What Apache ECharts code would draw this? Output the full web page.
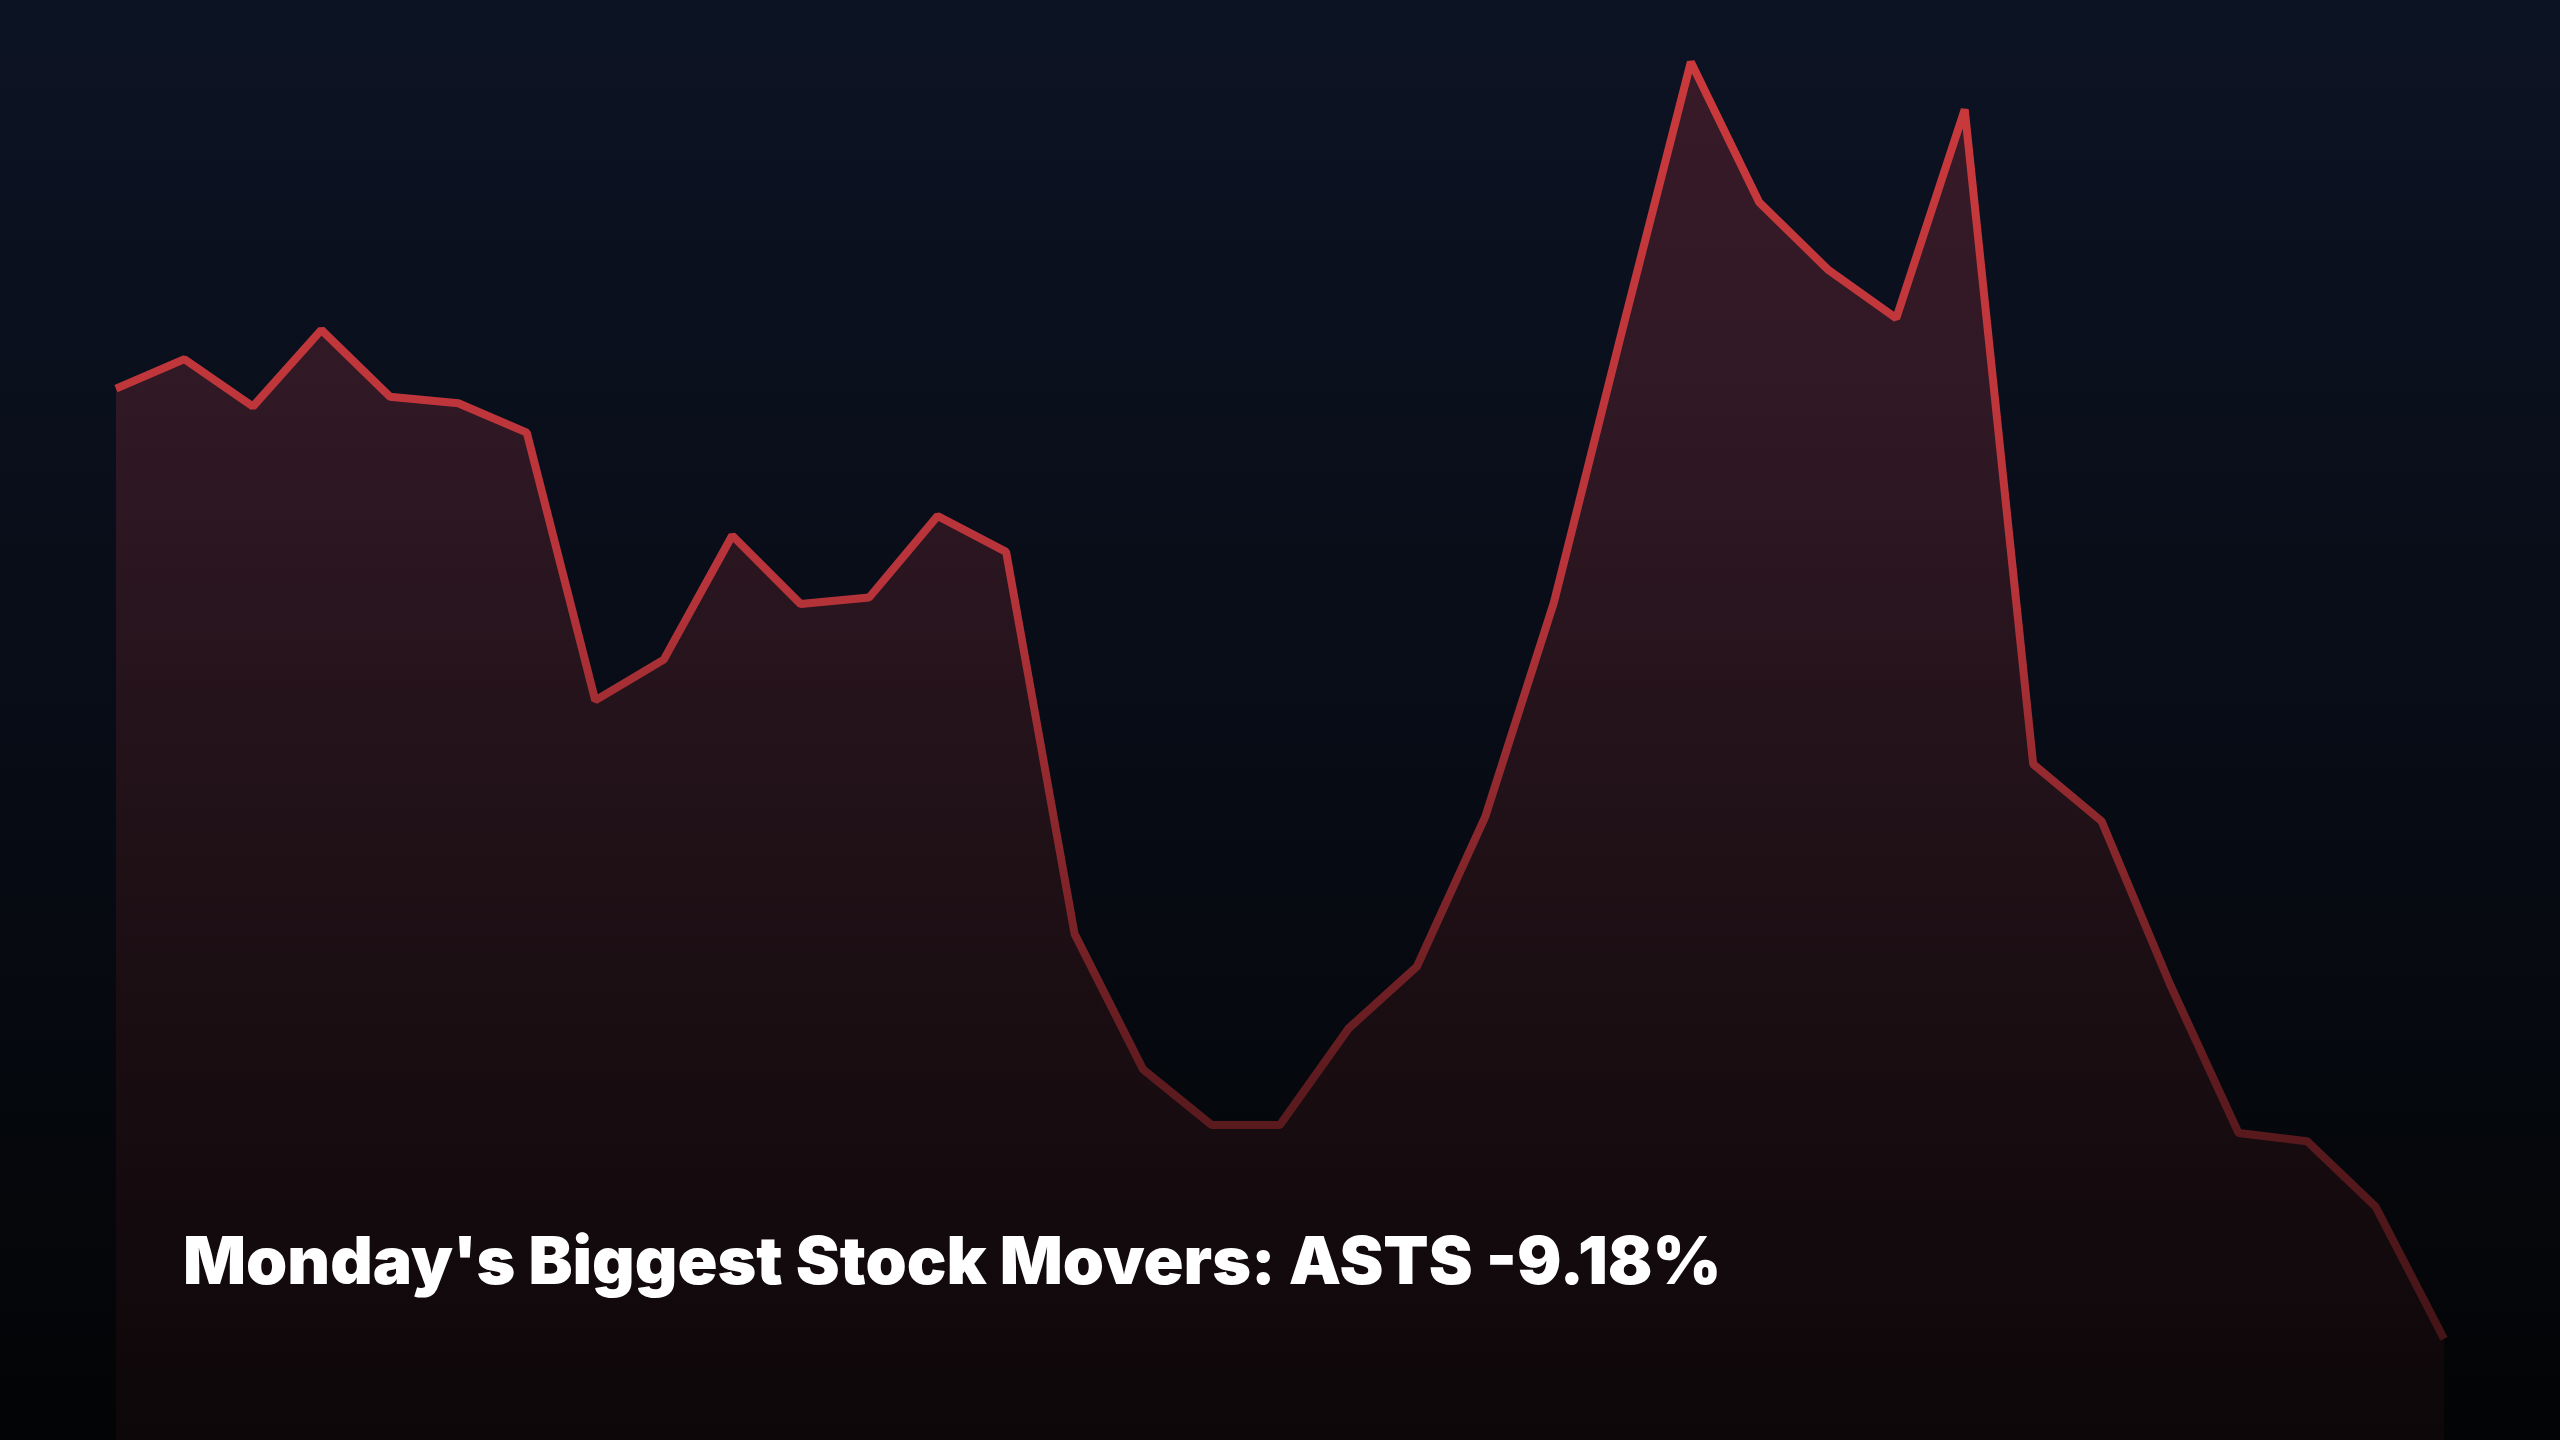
<!DOCTYPE html>
<html>
<head>
<meta charset="utf-8">
<script src="https://cdn.jsdelivr.net/npm/echarts@6/dist/echarts.min.js"></script>
<style>
  html, body { margin: 0; padding: 0; background: #05070b; }
  #chart { width: 2560px; height: 1440px; }
</style>
</head>
<body>
<div id="chart"></div>
<script>
// price path (arbitrary units, higher = up)
var days = []
for (var i = 1; i <= 35; i++) days.push('D' + i)
var prices = [644, 662, 633, 680, 639, 635, 617, 453, 478, 554, 512, 516, 566, 544,
  310, 227, 193, 193, 252, 290, 382, 513, 680, 844, 758, 717, 687, 815, 414, 379,
  279, 188, 183, 143, 62]
var title = "Monday's Biggest Stock Movers: ASTS -9.18%"

var myChart = echarts.init(document.getElementById('chart'))
var option = {
  backgroundColor: {
    type: 'linear', x: 0, y: 0, x2: 0, y2: 1,
    colorStops: [
      { offset: 0, color: '#0c1323' },
      { offset: 0.5, color: '#080c16' },
      { offset: 1, color: '#030405' }
    ]
  },
  animation: false,
  title: {
    text: title,
    left: 178,
    top: 1226,
    textStyle: {
      color: '#ffffff',
      fontFamily: 'Inter',
      fontWeight: 900,
      fontSize: 66
    }
  },
  grid: { left: 116, right: 116, top: 0, bottom: 0 },
  xAxis: {
    type: 'category',
    boundaryGap: false,
    data: days,
    show: false
  },
  yAxis: {
    type: 'value',
    min: 0,
    max: 882,
    show: false
  },
  series: [
    {
      type: 'line',
      data: prices,
      symbol: 'none',
      lineStyle: {
        width: 8,
        color: {
          type: 'linear', x: 0, y: 0, x2: 0, y2: 1440, global: true,
          colorStops: [
            { offset: 0, color: '#cc3a3c' },
            { offset: 0.4, color: '#b8343a' },
            { offset: 0.75, color: '#5e1b1f' },
            { offset: 1, color: '#3a1214' }
          ]
        }
      },
      areaStyle: {
        opacity: 1,
        color: {
          type: 'linear', x: 0, y: 0, x2: 0, y2: 1440, global: true,
          colorStops: [
            { offset: 0, color: '#3a1a28' },
            { offset: 0.3, color: '#2f1824' },
            { offset: 0.6, color: '#1f1016' },
            { offset: 1, color: '#0d0709' }
          ]
        }
      }
    }
  ]
}
option && myChart.setOption(option)
</script>
</body>
</html>
